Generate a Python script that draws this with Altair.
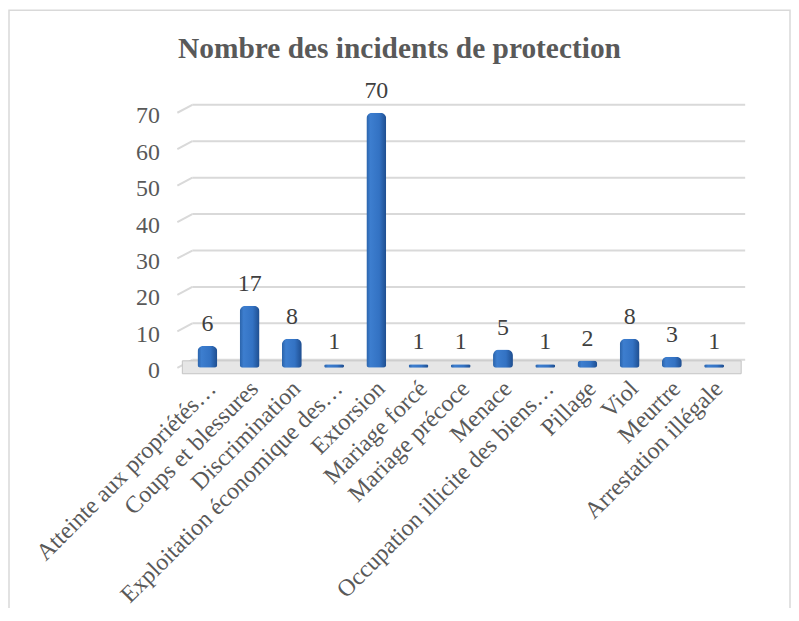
import altair as alt
import pandas as pd

categories = [
    "Atteinte aux propriétés…", "Coups et blessures", "Discrimination",
    "Exploitation économique des…", "Extorsion", "Mariage forcé",
    "Mariage précoce", "Menace", "Occupation illicite des biens…",
    "Pillage", "Viol", "Meurtre", "Arrestation illégale",
]
values = [6, 17, 8, 1, 70, 1, 1, 5, 1, 2, 8, 3, 1]
y_ticks = [0, 10, 20, 30, 40, 50, 60, 70]
title_text = ["Nombre des incidents de protection"]

FONT = "Liberation Serif"
W, H = 551, 256

df = pd.DataFrame({"cat": categories, "val": values})
grid_df = pd.DataFrame({"v": y_ticks})

y_scale = alt.Scale(domain=[0, 70], nice=False)
y_axis = alt.Axis(values=y_ticks, tickCount=8, labelFontSize=24, labelFont=FONT,
                  labelColor="#595959", domain=False, ticks=False,
                  grid=False, labelPadding=27, labelOffset=3, title=None,
                  labelOverlap=False, labelBound=False)

x_axis = alt.Axis(labelAngle=-45, labelAlign="right", labelBaseline="middle",
                  labelFontSize=24, labelFont=FONT, labelColor="#595959",
                  domain=False, ticks=False, labelPadding=17, labelOffset=5,
                  labelOverlap=False, labelBound=False, labelLimit=400)
x_enc = alt.X("cat:N", sort=categories, title=None,
              scale=alt.Scale(paddingInner=0.0, paddingOuter=0.0), axis=x_axis)

border = alt.Chart(pd.DataFrame({"a": [0]})).mark_rect(
    fill=None, stroke="#D9D9D9", strokeWidth=1.5
).encode(x=alt.value(-178), x2=alt.value(606), y=alt.value(-103), y2=alt.value(520))

title = alt.Chart(pd.DataFrame({"t": title_text})).mark_text(
    font=FONT, fontSize=29.5, fontWeight="bold", color="#595959",
    align="center", baseline="alphabetic"
).encode(x=alt.value(214), y=alt.value(-55), text="t:N")

grid_h = alt.Chart(grid_df).mark_rule(color="#D9D9D9", strokeWidth=2, yOffset=-8).encode(
    x=alt.value(6), x2=alt.value(W + 10),
    y=alt.Y("v:Q", scale=y_scale, axis=y_axis),
)

grid_diag = alt.Chart(grid_df).mark_rule(color="#D9D9D9", strokeWidth=2, y2Offset=-8).encode(
    x=alt.value(-9), x2=alt.value(6),
    y=alt.Y("v:Q", scale=y_scale, axis=y_axis), y2=alt.Y2("v:Q"),
)

floor = alt.Chart(pd.DataFrame({"a": [0]})).mark_rect(
    fill="#E6E6E6", stroke="#C4C4C4", strokeWidth=1
).encode(x=alt.value(-4), x2=alt.value(W + 6), y=alt.value(H - 7), y2=alt.value(H + 6))

grad = alt.Gradient(
    gradient="linear", x1=0, x2=1, y1=0, y2=0,
    stops=[alt.GradientStop(color="#2A62A8", offset=0),
           alt.GradientStop(color="#3D7ECF", offset=0.2),
           alt.GradientStop(color="#3372C3", offset=0.65),
           alt.GradientStop(color="#1E4D8E", offset=1)],
)
bars = alt.Chart(df).mark_bar(
    size=20, color=grad, cornerRadiusTopLeft=6, cornerRadiusTopRight=6,
    cornerRadiusBottomLeft=3, cornerRadiusBottomRight=3
).encode(x=x_enc, y=alt.Y("val:Q", scale=y_scale, axis=y_axis))

labels = alt.Chart(df).mark_text(
    baseline="bottom", dy=-10, fontSize=24, font=FONT, color="#404040"
).encode(x=alt.X("cat:N", sort=categories, axis=x_axis),
         y=alt.Y("val:Q", scale=y_scale, axis=y_axis), text="val:Q")

chart = alt.layer(grid_h, grid_diag, border, title, floor, bars, labels).properties(
    width=W, height=H,
    autosize=alt.AutoSizeParams(type="none"),
    padding={"left": 179, "top": 104, "right": 56, "bottom": 240},
).configure_view(stroke=None)

chart.save("out.html", embed_options={"renderer": "svg", "actions": False})
